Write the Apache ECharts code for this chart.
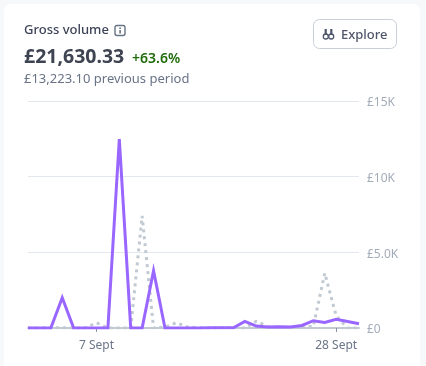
<!DOCTYPE html>
<html><head><meta charset="utf-8">
<style>html,body{margin:0;padding:0;background:#f6f8fa}#c{width:426px;height:366px}</style>
<script src="https://cdn.jsdelivr.net/npm/echarts@6/dist/echarts.min.js"></script>
</head><body><div id="c"></div>
<script>
const categories=["1 Sept","2 Sept","3 Sept","4 Sept","5 Sept","6 Sept","7 Sept","8 Sept","9 Sept","10 Sept","11 Sept","12 Sept","13 Sept","14 Sept","15 Sept","16 Sept","17 Sept","18 Sept","19 Sept","20 Sept","21 Sept","22 Sept","23 Sept","24 Sept","25 Sept","26 Sept","27 Sept","28 Sept","29 Sept","30 Sept"];
const current=[0,0,0,2000,0,0,0,0,12490,0,0,3790,0,0,0,0,20,10,10,440,130,60,80,60,170,480,370,570,430,280];
const previous=[0,0,20,20,0,0,350,0,0,0,7400,0,60,350,60,20,0,20,10,0,440,100,40,20,80,100,3620,800,0,0];
const yTicks={0:"£0",5000:"£5.0K",10000:"£10K",15000:"£15K"};
const tickDays=["7 Sept","28 Sept"];
const sans='"Noto Sans","Open Sans",sans-serif';
const chart=echarts.init(document.getElementById('c'));
const showTick=(i,v)=>tickDays.includes(v);
chart.setOption({
 animation:false,
 grid:{left:28,right:67,top:101,bottom:38},
 xAxis:{type:'category',boundaryGap:false,data:categories,
  axisLine:{lineStyle:{color:'#c1c9d2',width:2}},
  axisTick:{interval:showTick,length:4,lineStyle:{color:'#8792a2'}},
  axisLabel:{interval:showTick,color:'#6b7588',fontFamily:sans,fontSize:12,margin:12,hideOverlap:false},
  splitLine:{show:false}},
 yAxis:{type:'value',position:'right',min:0,max:15000,interval:5000,
  axisLine:{show:false},axisTick:{show:false},
  axisLabel:{formatter:v=>yTicks[v],color:'#a3acb9',fontFamily:sans,fontSize:12,margin:8,verticalAlign:'top',lineHeight:4},
  splitLine:{lineStyle:{color:'#e3e8ee',width:1}}},
 series:[
  {name:'Previous period',type:'line',data:previous,symbol:'none',z:2,lineStyle:{color:'#c1c9d2',width:3,type:[3,4]}},
  {name:'Current period',type:'line',data:current,symbol:'none',z:3,lineStyle:{color:'#9966ff',width:3,join:'miter'}}
 ],
 graphic:[
  {type:'rect',z:-10,silent:true,shape:{x:4,y:4,width:416,height:380,r:6},style:{fill:'#ffffff'}},
  {type:'text',left:24,top:24,style:{text:'Gross volume',font:'500 13px '+sans,fill:'#3c4257'}},
  {type:'rect',shape:{x:115,y:25.5,width:10,height:10,r:2},style:{fill:'none',stroke:'#697386',lineWidth:1.4}},
  {type:'rect',shape:{x:119.3,y:30,width:1.6,height:3.5},style:{fill:'#697386'}},
  {type:'rect',shape:{x:119.3,y:27.5,width:1.6,height:1.5},style:{fill:'#697386'}},
  {type:'text',left:24,top:47,style:{text:'£21,630.33',font:'700 19.5px '+sans,fill:'#3e4451'}},
  {type:'text',left:132,top:52,style:{text:'+63.6%',font:'600 14px '+sans,fill:'#1f6b0a'}},
  {type:'text',left:24,top:73,style:{text:'£13,223.10 previous period',font:'400 13px '+sans,fill:'#697386'}},
  {type:'rect',shape:{x:313.5,y:19.5,width:83,height:29,r:6},style:{fill:'#fff',stroke:'#c9ced8',lineWidth:1}},
  {type:'circle',shape:{cx:325.8,cy:36.5,r:2.5},style:{fill:'none',stroke:'#4f566b',lineWidth:1.3}},
  {type:'circle',shape:{cx:331.2,cy:36.5,r:2.5},style:{fill:'none',stroke:'#4f566b',lineWidth:1.3}},
  {type:'rect',shape:{x:324.6,y:29,width:2.2,height:6},style:{fill:'#4f566b'}},
  {type:'rect',shape:{x:330.2,y:29,width:2.2,height:6},style:{fill:'#4f566b'}},
  {type:'text',left:341,top:29,style:{text:'Explore',font:'500 13px '+sans,fill:'#4f566b'}}
 ]
});
</script></body></html>
